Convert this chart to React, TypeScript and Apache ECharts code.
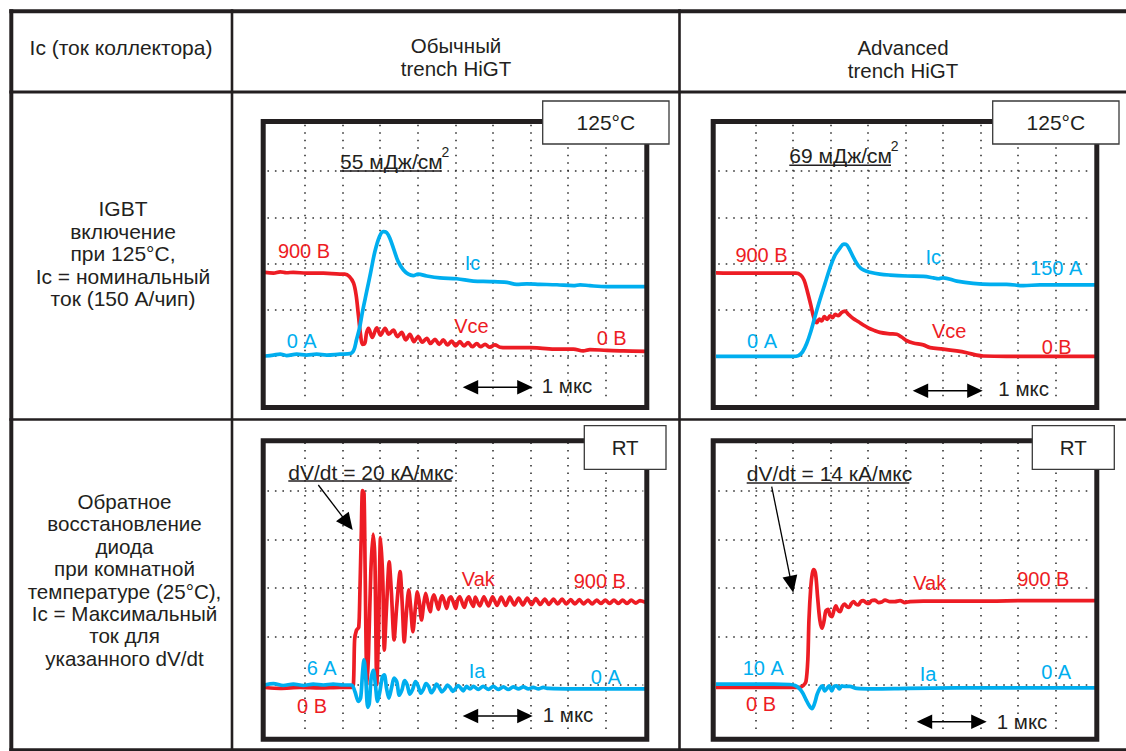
import React, { useEffect, useRef } from "react";
import * as echarts from "echarts";

const RED = "#ed1c24";
const BLUE = "#00aeef";
const INK = "#231f20";
const FONT = '"Liberation Sans", Arial, Helvetica, sans-serif';

// All traces: x in horizontal scope divisions (0..10), y in vertical divisions (0..6)
// Panel 1 – conventional trench HiGT, IGBT turn-on at 125°C
const convTurnOnVce: number[][] = [
  [-0.09, 2.81], [0.16, 2.79], [0.34, 2.82], [0.51, 2.8], [0.69, 2.81], [1.04, 2.79], [1.49, 2.79], [1.93, 2.77],
  [2.06, 2.77], [2.18, 2.72], [2.29, 2.58], [2.36, 2.32], [2.42, 1.89], [2.48, 1.45], [2.53, 1.25], [2.59, 1.27],
  [2.64, 1.51], [2.69, 1.6], [2.79, 1.4], [2.91, 1.61], [3.01, 1.45], [3.13, 1.6], [3.23, 1.47], [3.35, 1.56],
  [3.46, 1.42], [3.57, 1.51], [3.68, 1.35], [3.79, 1.47], [3.9, 1.31], [4.01, 1.42], [4.12, 1.3], [4.24, 1.38],
  [4.34, 1.27], [4.46, 1.36], [4.57, 1.25], [4.68, 1.35], [4.79, 1.24], [4.9, 1.32], [5.01, 1.22], [5.12, 1.31],
  [5.23, 1.22], [5.34, 1.29], [5.45, 1.2], [5.57, 1.27], [5.67, 1.2], [5.79, 1.25], [5.92, 1.19], [6.05, 1.24],
  [6.19, 1.19], [6.37, 1.18], [6.63, 1.18], [6.99, 1.18], [7.25, 1.17], [7.7, 1.15], [8.14, 1.15], [8.4, 1.11],
  [8.58, 1.14], [9.03, 1.12], [9.47, 1.11], [10.07, 1.1],
];
const convTurnOnIc: number[][] = [
  [-0.06, 1.0], [0.16, 1.02], [0.34, 1.04], [0.51, 1.01], [0.78, 1.04], [1.04, 1.02], [1.31, 1.04], [1.58, 1.02],
  [1.93, 1.04], [2.2, 1.05], [2.3, 1.13], [2.37, 1.35], [2.45, 1.6], [2.53, 1.96], [2.64, 2.39], [2.75, 2.82],
  [2.86, 3.26], [2.98, 3.58], [3.08, 3.69], [3.17, 3.67], [3.26, 3.54], [3.37, 3.29], [3.48, 3.04], [3.62, 2.86],
  [3.75, 2.77], [3.88, 2.74], [4.01, 2.77], [4.24, 2.73], [4.59, 2.69], [5.04, 2.67], [5.48, 2.62], [5.92, 2.61],
  [6.37, 2.59], [6.63, 2.55], [6.9, 2.56], [7.25, 2.55], [7.7, 2.54], [8.14, 2.52], [8.32, 2.54], [8.58, 2.52],
  [9.03, 2.5], [9.47, 2.5], [10.07, 2.5],
];
// Panel 2 – advanced trench HiGT, IGBT turn-on at 125°C
const advTurnOnVce: number[][] = [
  [-0.11, 2.8], [0.58, 2.79], [1.47, 2.79], [2.07, 2.79], [2.2, 2.75], [2.29, 2.64], [2.38, 2.39], [2.47, 2.1],
  [2.55, 1.83], [2.63, 1.72], [2.7, 1.8], [2.76, 1.76], [2.83, 1.85], [2.91, 1.79], [2.98, 1.87], [3.05, 1.83],
  [3.12, 1.9], [3.2, 1.87], [3.29, 1.94], [3.38, 1.97], [3.47, 1.9], [3.6, 1.81], [3.74, 1.74], [3.87, 1.67],
  [4.0, 1.61], [4.14, 1.56], [4.31, 1.51], [4.58, 1.48], [4.76, 1.47], [4.89, 1.41], [5.03, 1.33], [5.2, 1.28],
  [5.47, 1.24], [5.65, 1.18], [6.0, 1.15], [6.36, 1.11], [6.63, 1.07], [6.89, 1.02], [7.07, 1.0], [7.69, 0.99],
  [8.58, 0.99], [10.07, 0.99],
];
const advTurnOnIc: number[][] = [
  [-0.11, 0.99], [1.03, 0.99], [2.0, 0.99], [2.14, 1.01], [2.25, 1.09], [2.36, 1.27], [2.47, 1.53], [2.58, 1.85],
  [2.71, 2.21], [2.85, 2.57], [2.98, 2.9], [3.11, 3.17], [3.25, 3.34], [3.35, 3.42], [3.43, 3.4], [3.51, 3.29],
  [3.62, 3.11], [3.74, 2.95], [3.87, 2.86], [4.05, 2.81], [4.31, 2.77], [4.58, 2.75], [5.03, 2.73], [5.47, 2.72],
  [5.74, 2.69], [5.87, 2.67], [6.0, 2.69], [6.36, 2.62], [6.8, 2.57], [7.25, 2.55], [7.69, 2.55], [8.14, 2.52],
  [8.58, 2.54], [9.02, 2.54], [10.07, 2.54],
];
// Panel 3 – conventional, diode reverse recovery at room temperature
const convRecVak: number[][] = [
  [-0.09, 0.95], [0.34, 0.93], [0.87, 0.95], [1.4, 0.94], [1.93, 0.95], [2.24, 0.95], [2.29, 1.03], [2.32, 1.93],
  [2.37, 2.13], [2.43, 2.19], [2.46, 2.89], [2.5, 4.2], [2.53, 5.01], [2.57, 4.95], [2.6, 3.37], [2.65, 0.98],
  [2.69, 1.65], [2.75, 3.31], [2.81, 4.11], [2.86, 3.58], [2.91, 1.01], [2.96, 2.2], [3.01, 4.04], [3.07, 3.16],
  [3.11, 1.72], [3.17, 2.62], [3.24, 3.54], [3.3, 2.89], [3.37, 1.93], [3.44, 2.62], [3.53, 3.34], [3.59, 2.62],
  [3.64, 1.89], [3.7, 2.51], [3.76, 2.96], [3.81, 2.62], [3.87, 2.1], [3.94, 2.62], [3.99, 2.92], [4.04, 2.72],
  [4.1, 2.34], [4.16, 2.68], [4.21, 2.89], [4.26, 2.72], [4.33, 2.51], [4.38, 2.75], [4.43, 2.86], [4.49, 2.72],
  [4.55, 2.56], [4.6, 2.75], [4.65, 2.84], [4.71, 2.72], [4.77, 2.58], [4.83, 2.77], [4.88, 2.82], [4.95, 2.7],
  [5.01, 2.58], [5.06, 2.75], [5.12, 2.82], [5.19, 2.68], [5.24, 2.6], [5.3, 2.75], [5.36, 2.82], [5.42, 2.7],
  [5.48, 2.62], [5.53, 2.81], [5.65, 2.63], [5.76, 2.82], [5.88, 2.63], [5.99, 2.82], [6.11, 2.64], [6.22, 2.81],
  [6.34, 2.64], [6.45, 2.81], [6.57, 2.65], [6.68, 2.79], [6.8, 2.65], [6.91, 2.79], [7.03, 2.66], [7.14, 2.78],
  [7.26, 2.66], [7.38, 2.77], [7.49, 2.66], [7.61, 2.77], [7.72, 2.67], [7.84, 2.77], [7.95, 2.67], [8.07, 2.76],
  [8.18, 2.67], [8.3, 2.76], [8.41, 2.67], [8.53, 2.75], [8.64, 2.67], [8.76, 2.75], [8.87, 2.68], [8.99, 2.75],
  [9.1, 2.68], [9.22, 2.75], [9.34, 2.68], [9.45, 2.75], [9.57, 2.68], [9.68, 2.75], [9.8, 2.69], [9.91, 2.74],
  [10.04, 2.71],
];
const convRecIa: number[][] = [
  [-0.09, 1.0], [0.16, 1.03], [0.42, 0.99], [0.69, 1.02], [0.96, 0.99], [1.22, 1.02], [1.49, 1.0], [1.75, 1.02],
  [2.02, 1.0], [2.24, 1.0], [2.33, 0.86], [2.42, 0.66], [2.48, 0.73], [2.53, 1.24], [2.57, 1.52], [2.61, 1.24],
  [2.67, 0.54], [2.71, 0.62], [2.76, 1.14], [2.82, 1.3], [2.87, 1.03], [2.93, 0.66], [2.99, 0.86], [3.06, 1.17],
  [3.11, 1.21], [3.17, 0.93], [3.23, 0.73], [3.31, 0.97], [3.37, 1.14], [3.44, 1.07], [3.51, 0.79], [3.58, 0.9],
  [3.65, 1.09], [3.72, 1.0], [3.79, 0.81], [3.86, 0.9], [3.94, 1.07], [4.01, 0.98], [4.08, 0.83], [4.15, 0.91],
  [4.22, 1.03], [4.29, 0.97], [4.36, 0.84], [4.43, 0.91], [4.5, 1.02], [4.57, 0.95], [4.64, 0.86], [4.72, 0.92],
  [4.79, 1.0], [4.86, 0.95], [4.93, 0.87], [5.0, 0.92], [5.07, 0.99], [5.14, 0.94], [5.21, 0.88], [5.3, 0.97],
  [5.39, 0.92], [5.48, 0.97], [5.61, 0.91], [5.74, 0.97], [5.88, 0.91], [6.01, 0.97], [6.14, 0.91], [6.28, 0.96],
  [6.41, 0.91], [6.54, 0.96], [6.68, 0.92], [6.81, 0.96], [6.94, 0.92], [7.07, 0.95], [7.21, 0.92], [7.34, 0.95],
  [7.47, 0.93], [8.14, 0.92], [9.03, 0.92], [10.04, 0.92],
];
// Panel 4 – advanced, diode reverse recovery at room temperature
const advRecVak: number[][] = [
  [-0.11, 0.95], [1.03, 0.95], [1.91, 0.95], [2.18, 0.95], [2.27, 0.99], [2.34, 1.07], [2.39, 1.52], [2.42, 2.34],
  [2.47, 3.03], [2.51, 3.3], [2.55, 3.38], [2.6, 3.27], [2.65, 2.82], [2.71, 2.34], [2.77, 2.17], [2.82, 2.31],
  [2.87, 2.53], [2.93, 2.56], [2.98, 2.44], [3.03, 2.41], [3.09, 2.55], [3.14, 2.63], [3.19, 2.55], [3.25, 2.51],
  [3.31, 2.62], [3.37, 2.67], [3.43, 2.62], [3.49, 2.6], [3.55, 2.68], [3.61, 2.72], [3.67, 2.67], [3.74, 2.65],
  [3.8, 2.72], [3.87, 2.74], [3.94, 2.7], [4.01, 2.68], [4.09, 2.74], [4.18, 2.75], [4.27, 2.7], [4.36, 2.71],
  [4.45, 2.75], [4.58, 2.72], [4.71, 2.72], [4.85, 2.74], [4.98, 2.7], [5.11, 2.72], [5.47, 2.73], [6.36, 2.73],
  [7.25, 2.73], [8.14, 2.74], [9.03, 2.74], [10.07, 2.74],
];
const advRecIa: number[][] = [
  [-0.11, 1.02], [0.58, 1.02], [1.47, 1.02], [1.91, 1.01], [2.05, 0.99], [2.16, 0.93], [2.25, 0.84], [2.34, 0.7],
  [2.43, 0.57], [2.5, 0.51], [2.57, 0.62], [2.64, 0.81], [2.71, 0.93], [2.78, 0.98], [2.84, 0.88], [2.9, 0.93],
  [2.96, 0.98], [3.03, 0.88], [3.09, 0.97], [3.16, 0.98], [3.23, 0.92], [3.3, 0.98], [3.38, 0.97], [3.51, 0.97],
  [3.69, 0.93], [4.14, 0.92], [5.03, 0.93], [6.36, 0.94], [8.14, 0.94], [10.07, 0.94],
];

// Texts
const headerLeft = "Ic (ток коллектора)";
const headerConv = ["Обычный", "trench HiGT"];
const headerAdv = ["Advanced", "trench HiGT"];
const rowLabelTurnOn = ["IGBT", "включение", "при 125°C,", "Ic = номинальный", "ток (150 А/чип)"];
const rowLabelRecovery = [
  "Обратное", "восстановление", "диода", "при комнатной", "температуре (25°C),",
  "Ic = Максимальный", "ток для", "указанного dV/dt",
];
const tempLabels = ["125°C", "125°C", "RT", "RT"];
const energyLabels = ["55 мДж/см", "69 мДж/см"];
const energySup = "2";
const dvdtLabels = ["dV/dt = 20 кА/мкс", "dV/dt = 14 кА/мкс"];
const timeBaseLabel = "1 мкс";

type TxtOpts = { size?: number; color?: string; align?: string; vAlign?: string };
function txt(x: number, y: number, text: string, o: TxtOpts = {}) {
  const size = o.size ?? 20;
  const align = o.align ?? "center";
  const vAlign = o.vAlign ?? "middle";
  return {
    type: "text", x, y, z: 20, silent: true,
    style: {
      text, fill: o.color ?? INK, fontSize: size, fontFamily: FONT,
      align, textAlign: align, verticalAlign: vAlign, textVerticalAlign: vAlign,
    },
  };
}
function line(x1: number, y1: number, x2: number, y2: number, w: number, color = INK, z = 5) {
  return { type: "line", z, silent: true, shape: { x1, y1, x2, y2 }, style: { stroke: color, lineWidth: w } };
}
function head(tx: number, ty: number, dx: number, dy: number, len: number, hw: number) {
  const n = Math.hypot(dx, dy);
  const ux = dx / n, uy = dy / n;
  const bx = tx - ux * len, by = ty - uy * len;
  return {
    type: "polygon", z: 20, silent: true,
    shape: { points: [[tx, ty], [bx - uy * hw, by + ux * hw], [bx + uy * hw, by - ux * hw]] },
    style: { fill: "#000" },
  };
}
function dblArrow(x1: number, x2: number, y: number) {
  const L = 15.5, hw = 7.3;
  return [line(x1 + L - 1, y, x2 - L + 1, y, 1.6, "#000", 20), head(x1, y, -1, 0, L, hw), head(x2, y, 1, 0, L, hw)];
}
function pointer(x1: number, y1: number, tx: number, ty: number, L: number, hw: number) {
  const dx = tx - x1, dy = ty - y1;
  const n = Math.hypot(dx, dy);
  return [line(x1, y1, tx - (dx / n) * (L - 1), ty - (dy / n) * (L - 1), 1.3, "#000", 20), head(tx, ty, dx, dy, L, hw)];
}

const grids = [
  { left: 267.4, top: 124.75, width: 375.9, height: 277.5 },
  { left: 718.2, top: 124.75, width: 375, height: 277.5 },
  { left: 267.4, top: 442.5, width: 375.9, height: 291 },
  { left: 718.2, top: 442.5, width: 375, height: 291 },
];

export default function App() {
  const ref = useRef<HTMLDivElement>(null);
  useEffect(() => {
    if (!ref.current) return;
    const chart = echarts.init(ref.current, undefined, { renderer: "svg" });
    const dotted = { color: "#333", width: 1.6, type: [1.6, 5.9] };
    const xAxis = grids.map((_, i) => ({
      type: "value", gridIndex: i, min: 0, max: 10, interval: 1,
      axisLine: { show: false }, axisTick: { show: false }, axisLabel: { show: false },
      splitLine: { show: true, showMinLine: false, showMaxLine: false, lineStyle: dotted },
    }));
    const yAxis = grids.map((_, i) => ({
      type: "value", gridIndex: i, min: 0, max: 6, interval: 1,
      axisLine: { show: false }, axisTick: { show: false }, axisLabel: { show: false },
      splitLine: { show: true, showMinLine: false, showMaxLine: false, lineStyle: dotted },
    }));
    const mk = (data: number[][], color: string, idx: number, smooth: number) => ({
      type: "line", xAxisIndex: idx, yAxisIndex: idx, data, symbol: "none", showSymbol: false,
      smooth, clip: false, silent: true, z: 3,
      lineStyle: { color, width: 3.7, cap: "round", join: "round" },
    });
    const series = [
      mk(convTurnOnVce, RED, 0, 0.35), mk(convTurnOnIc, BLUE, 0, 0.35),
      mk(advTurnOnVce, RED, 1, 0.35), mk(advTurnOnIc, BLUE, 1, 0.35),
      mk(convRecVak, RED, 2, 0.25), mk(convRecIa, BLUE, 2, 0.3),
      mk(advRecVak, RED, 3, 0.3), mk(advRecIa, BLUE, 3, 0.3),
    ];

    const els: any[] = [];
    // table rules
    els.push(line(9.3, 11.3, 1126, 11.3, 4));
    els.push(line(11.3, 9.3, 11.3, 751, 4));
    els.push(line(9.3, 92, 1126, 92, 3));
    els.push(line(9.3, 419.5, 1126, 419.5, 2.6));
    els.push(line(9.3, 749.6, 1126, 749.6, 2.6));
    els.push(line(232, 9.3, 232, 751, 2.6));
    els.push(line(679.5, 9.3, 679.5, 751, 2.6));
    // header
    els.push(txt(121, 47, headerLeft, { size: 21 }));
    els.push(txt(456, 45, headerConv[0], { size: 20.5 }));
    els.push(txt(456, 68.5, headerConv[1], { size: 20.5 }));
    els.push(txt(903, 47, headerAdv[0], { size: 20.5 }));
    els.push(txt(903, 70.5, headerAdv[1], { size: 20.5 }));
    rowLabelTurnOn.forEach((s, i) => els.push(txt(123, 208.5 + i * 22.6, s, { size: 21 })));
    rowLabelRecovery.forEach((s, i) => els.push(txt(124.5, 501.5 + i * 22.4, s, { size: 20.6 })));

    // scope frames
    const frames = [
      [263.2, 121.5, 383.6, 286], [713.2, 121.5, 383.6, 286],
      [263.2, 440.8, 383.6, 298.4], [713.2, 440.8, 383.6, 298.4],
    ];
    frames.forEach(([x, y, w, h]) =>
      els.push({ type: "rect", z: 6, silent: true, shape: { x, y, width: w, height: h }, style: { fill: "none", stroke: INK, lineWidth: 5 } })
    );
    // temperature boxes
    const boxes = [
      [542.7, 101, 126.3, 43], [992.7, 101, 126.3, 43],
      [584.3, 425.7, 81.7, 43.6], [1032.3, 425.7, 82, 43.6],
    ];
    boxes.forEach(([x, y, w, h], i) => {
      els.push({ type: "rect", z: 15, silent: true, shape: { x, y, width: w, height: h }, style: { fill: "#fff", stroke: "#3a3a3a", lineWidth: 1.3 } });
      els.push(txt(x + w / 2, y + h / 2, tempLabels[i], { size: i < 2 ? 21 : 20.5 }));
    });

    // energy labels (superscript "2" placed just after the text)
    els.push(txt(340, 161.5, energyLabels[0], { size: 21, align: "left" }));
    els.push(txt(441.5, 152, energySup, { size: 14, align: "left" }));
    els.push(line(340, 171, 441.7, 171, 1.5, INK, 20));
    els.push(txt(789.3, 155.8, energyLabels[1], { size: 21, align: "left" }));
    els.push(txt(890.8, 146.3, energySup, { size: 14, align: "left" }));
    els.push(line(789.3, 165.3, 891, 165.3, 1.5, INK, 20));
    // dV/dt labels
    els.push(txt(288.3, 472, dvdtLabels[0], { size: 21, align: "left" }));
    els.push(line(288.3, 481, 451.7, 481, 1.5, INK, 20));
    els.push(...pointer(318.3, 485, 352.7, 530, 17, 8));
    els.push(txt(746.7, 473.7, dvdtLabels[1], { size: 21, align: "left" }));
    els.push(line(746.7, 483, 909.3, 483, 1.5, INK, 20));
    els.push(...pointer(771.7, 486.7, 793.3, 592.7, 17, 7.5));

    // trace labels
    const R = { color: RED }, B = { color: BLUE };
    els.push(txt(304, 250.7, "900 В", R), txt(301.7, 341, "0 А", B), txt(472.5, 263, "Ic", B),
      txt(471.5, 325.7, "Vce", R), txt(611.7, 338, "0 В", R));
    els.push(txt(761.5, 255, "900 В", R), txt(762, 341, "0 А", B), txt(933.3, 257, "Ic", B),
      txt(1056.2, 267.7, "150 А", B), txt(949.2, 331, "Vce", R), txt(1056.7, 346.7, "0 В", R));
    els.push(txt(478.3, 579.3, "Vak", R), txt(599.8, 581, "900 В", R), txt(321.7, 668.3, "6 А", B),
      txt(312, 706, "0 В", R), txt(477, 670.7, "Ia", B), txt(605.8, 676.7, "0 А", B));
    els.push(txt(929.7, 582.7, "Vak", R), txt(1043.3, 579.3, "900 В", R), txt(763.3, 668.3, "10 А", B),
      txt(761, 704, "0 В", R), txt(928, 674, "Ia", B), txt(1056.2, 672.3, "0 А", B));
    // time base
    els.push(...dblArrow(462.7, 532.7, 387.3), txt(541.7, 385, timeBaseLabel, { align: "left", size: 20.5 }));
    els.push(...dblArrow(912.7, 982.7, 390.7), txt(998.3, 388.3, timeBaseLabel, { align: "left", size: 20.5 }));
    els.push(...dblArrow(462.7, 532.7, 716), txt(542.7, 714.3, timeBaseLabel, { align: "left", size: 20.5 }));
    els.push(...dblArrow(916.7, 986.7, 721.7), txt(996.7, 721.7, timeBaseLabel, { align: "left", size: 20.5 }));

    chart.setOption({
      animation: false,
      grid: grids.map((g) => ({ ...g, containLabel: false, outerBoundsMode: "none" })),
      xAxis, yAxis, series,
      graphic: { elements: els },
    });
    return () => chart.dispose();
  }, []);
  return (
    <div
      ref={ref}
      style={{ position: "absolute", left: 0, top: 0, width: 1126, height: 751, background: "#fff" }}
    />
  );
}
